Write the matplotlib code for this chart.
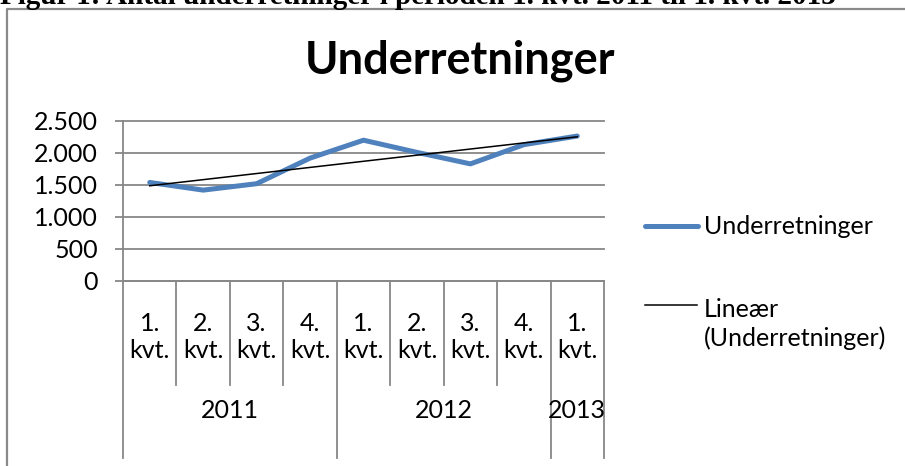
import matplotlib.pyplot as plt
import numpy as np
from matplotlib.lines import Line2D

# data
quarters = ["1.\nkvt.", "2.\nkvt.", "3.\nkvt.", "4.\nkvt.",
            "1.\nkvt.", "2.\nkvt.", "3.\nkvt.", "4.\nkvt.", "1.\nkvt."]
years = ["2011", "2012", "2013"]
year_sizes = [4, 4, 1]
underretninger = [1540, 1420, 1520, 1920, 2200, 2010, 1830, 2130, 2265]
y_ticks = [0, 500, 1000, 1500, 2000, 2500]
y_tick_labels = ["0", "500", "1.000", "1.500", "2.000", "2.500"]

W, H = 905, 466
BLUE = "#4F81BD"
GRID = "#878787"
FONT = "Lato"
FS = 18

plt.rcParams['font.family'] = FONT


def fx(x):
    return x / W


def fy(y):
    return 1 - y / H


fig = plt.figure(figsize=(W / 100, H / 100), dpi=100)

# caption (cut off at the top edge in the source) and outer frame
fig.text(fx(0), fy(4), "Figur 1: Antal underretninger i perioden 1. kvt. 2011 til 1. kvt. 2013",
         family="Liberation Serif", weight="bold", fontsize=21, ha="left", va="baseline")
fig.add_artist(Line2D([fx(7), fx(7), fx(W + 5)], [fy(H + 5), fy(9), fy(9)],
                      color="#8a8a8a", lw=1.6))

ax = fig.add_axes([fx(123), fy(281), fx(604 - 123), (281 - 121) / H])
x = np.arange(len(underretninger))
ax.plot(x, underretninger, color=BLUE, lw=3.6, solid_capstyle="round",
        solid_joinstyle="round", zorder=3)
coef = np.polyfit(x, underretninger, 1)
ax.plot(x, np.polyval(coef, x), color="black", lw=1.1, zorder=4)

ax.set_xlim(-0.5, len(x) - 0.5)
ax.set_ylim(0, 2500)
ax.set_yticks(y_ticks, y_tick_labels)
ax.set_xticks([])
ax.grid(axis="y", color=GRID, lw=1.3)
for gl in ax.get_ygridlines():
    gl.set_clip_on(False)
ax.tick_params(axis="y", length=6, width=1.3, color=GRID, pad=12, labelsize=FS)
for s in ["top", "right"]:
    ax.spines[s].set_visible(False)
for s in ["left", "bottom"]:
    ax.spines[s].set_color(GRID)
    ax.spines[s].set_linewidth(1.3)

# two-level category axis
trans = ax.get_xaxis_transform()
edges = np.cumsum([0] + year_sizes) - 0.5
for b in np.arange(-0.5, len(x) + 0.5):
    bottom = -1.106 if b in edges else -0.65
    ax.plot([b, b], [0, bottom], color=GRID, lw=1.3, transform=trans, clip_on=False)
for i, q in enumerate(quarters):
    ax.text(i, -0.35, q, transform=trans, ha="center", va="center",
            fontsize=FS, linespacing=1.2)
for k, yr in enumerate(years):
    ax.text((edges[k] + edges[k + 1]) / 2, -0.81, yr, transform=trans,
            ha="center", va="center", fontsize=FS)

# title
fig.text(fx(460), fy(73), "Underretninger", ha="center", va="baseline",
         fontsize=32.5, weight="bold")

# legend
fig.add_artist(Line2D([fx(645), fx(698)], [fy(226), fy(226)], color=BLUE, lw=3.6,
                      solid_capstyle="round"))
fig.text(fx(704), fy(226), "Underretninger", ha="left", va="center", fontsize=FS)
fig.add_artist(Line2D([fx(645), fx(697)], [fy(305), fy(305)], color="black", lw=1.1))
fig.text(fx(704), fy(346), "Lineær\n(Underretninger)", ha="left", va="baseline",
         fontsize=FS, linespacing=1.3, multialignment="left")

fig.savefig("out.png", dpi=100)
